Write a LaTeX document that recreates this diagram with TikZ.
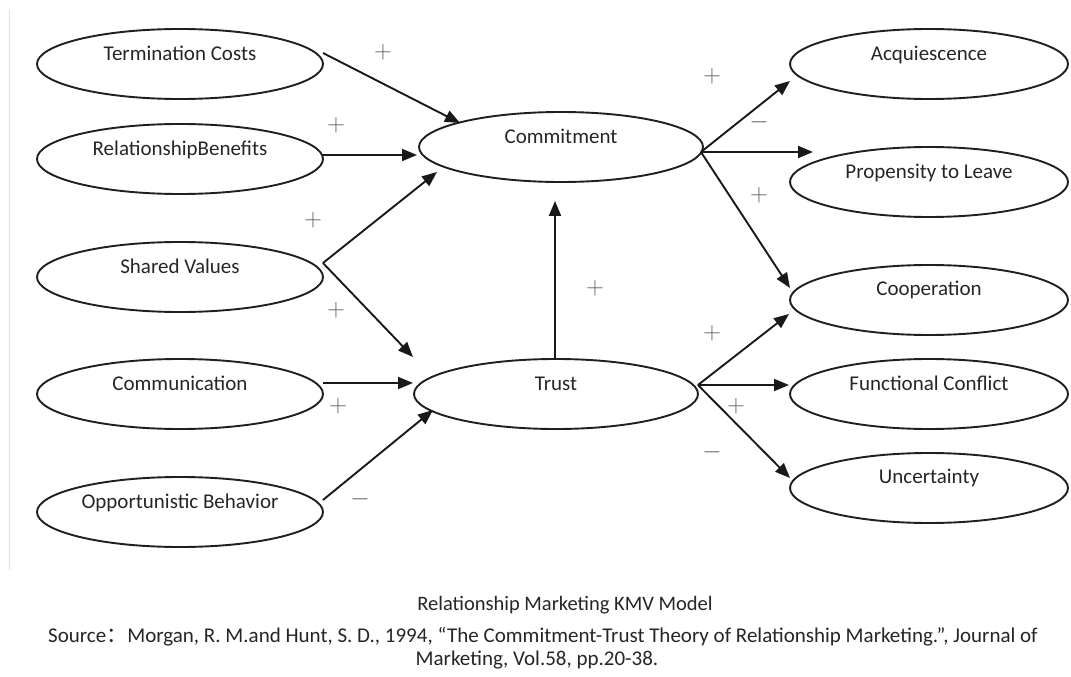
\documentclass[tikz,border=0pt]{standalone}
\usepackage{fontspec}
\setmainfont{Carlito}
\newfontfamily\cjkfont{Noto Sans CJK SC}
\usetikzlibrary{shapes.geometric,arrows.meta,calc}

\begin{document}
\begin{tikzpicture}[x=1pt,y=-1pt,
  oval/.style={ellipse, draw=black!88, line width=1.9pt,
    minimum width=#1, minimum height=70pt, inner sep=0pt},
  oval/.default=286pt,
  lbl/.style={font=\fontsize{21}{24}\selectfont, text=black!85,
    text height=14pt, text depth=4pt, inner sep=0pt},
  link/.style={line width=1.9pt, draw=black!90,
    -{Triangle[length=15pt,width=12pt]}},
  sign/.style={text=black!62, font=\fontsize{28}{28}\selectfont, inner sep=0pt},
  note/.style={font=\fontsize{20.5}{24}\selectfont, text=black!85, inner sep=0pt}]

\useasboundingbox (0,0) rectangle (1071,677);
\fill[white] (0,0) rectangle (1071,677);
\draw[black!12, line width=1pt] (9,10) -- (9,570);

% antecedents
\node[oval] (tc)  at (180,64)  {};
\node[lbl]  (tct) at (180,55)  {Termination Costs};
\node[oval] (rb)  at (180,159) {};
\node[lbl]  (rbt) at (180,150) {RelationshipBenefits};
\node[oval] (sv)  at (180,277) {};
\node[lbl]  (svt) at (180,268) {Shared Values};
\node[oval] (co)  at (180,394) {};
\node[lbl]  (cot) at (180,385) {Communication};
\node[oval] (ob)  at (180,512) {};
\node[lbl]  (obt) at (180,503) {Opportunistic Behavior};

% mediators
\node[oval=284pt] (cm)  at (561,147) {};
\node[lbl]        (cmt) at (561,138) {Commitment};
\node[oval=284pt] (tr)  at (556,394) {};
\node[lbl]        (trt) at (556,385) {Trust};

% outcomes
\node[oval=278pt] (aq)  at (929,64)  {};
\node[lbl]        (aqt) at (929,56)  {Acquiescence};
\node[oval=278pt] (pl)  at (929,182) {};
\node[lbl]        (plt) at (929,173) {Propensity to Leave};
\node[oval=278pt] (cp)  at (929,300) {};
\node[lbl]        (cpt) at (929,290) {Cooperation};
\node[oval=278pt] (fc)  at (929,394) {};
\node[lbl]        (fct) at (929,385) {Functional Conflict};
\node[oval=278pt] (un)  at (929,488) {};
\node[lbl]        (unt) at (929,478) {Uncertainty};

% links into commitment
\draw[link] ($(tc.east)+(-1,-11)$) -- ($(cm.center)+(-101,-24)$);
\draw[link] ($(rb.east)+(-1,-4)$)  -- ($(cm.center)+(-144,8)$);
\draw[link] ($(sv.east)+(-1,-14)$) -- ($(cm.center)+(-124,25)$);
% links into trust
\draw[link] ($(sv.east)+(-1,-14)$) -- ($(tr.center)+(-143,-37)$);
\draw[link] ($(co.east)+(-1,-11)$) -- ($(tr.center)+(-143,-11)$);
\draw[link] ($(ob.east)+(-1,-12)$) -- ($(tr.center)+(-123,16)$);
% trust to commitment
\draw[link] ($(tr.north)+(-1,0)$) -- ($(cm.south)+(-6,18)$);
% commitment outcomes
\draw[link] ($(cm.east)+(-3,5)$) -- ($(aq.center)+(-139,17)$);
\draw[link] ($(cm.east)+(-3,5)$) -- ($(pl.center)+(-116,-30)$);
\draw[link] ($(cm.east)+(-3,5)$) -- ($(cp.center)+(-139,-12)$);
% trust outcomes
\draw[link] ($(tr.east)+(-1,-9)$) -- ($(cp.center)+(-140,14)$);
\draw[link] ($(tr.east)+(-1,-9)$) -- ($(fc.center)+(-140,-9)$);
\draw[link] ($(tr.east)+(-1,-9)$) -- ($(un.center)+(-139,-10)$);

% path signs
\node[sign] (s1)  at (383,52)  {$+$};
\node[sign] (s2)  at (336,125) {$+$};
\node[sign] (s3)  at (313,220) {$+$};
\node[sign] (s4)  at (336,310) {$+$};
\node[sign] (s5)  at (338,406) {$+$};
\node[sign] (s6)  at (360,499) {$-$};
\node[sign] (s7)  at (595,288) {$+$};
\node[sign] (s8)  at (712,76)  {$+$};
\node[sign] (s9)  at (759,122) {$-$};
\node[sign] (s10) at (759,195) {$+$};
\node[sign] (s11) at (712,333) {$+$};
\node[sign] (s12) at (736,406) {$+$};
\node[sign] (s13) at (712,452) {$-$};

% caption and source
\node[note] (cap) at (565,605) {Relationship Marketing KMV Model};
\node[note, font=\fontsize{21}{24}\selectfont] (src1) at (543,637) {Source{\cjkfont ：}Morgan, R. M.and Hunt, S. D., 1994, “The Commitment-Trust Theory of Relationship Marketing.”, Journal of};
\node[note, font=\fontsize{21}{24}\selectfont] (src2) at (537,660) {Marketing, Vol.58, pp.20-38.};
\end{tikzpicture}
\end{document}
